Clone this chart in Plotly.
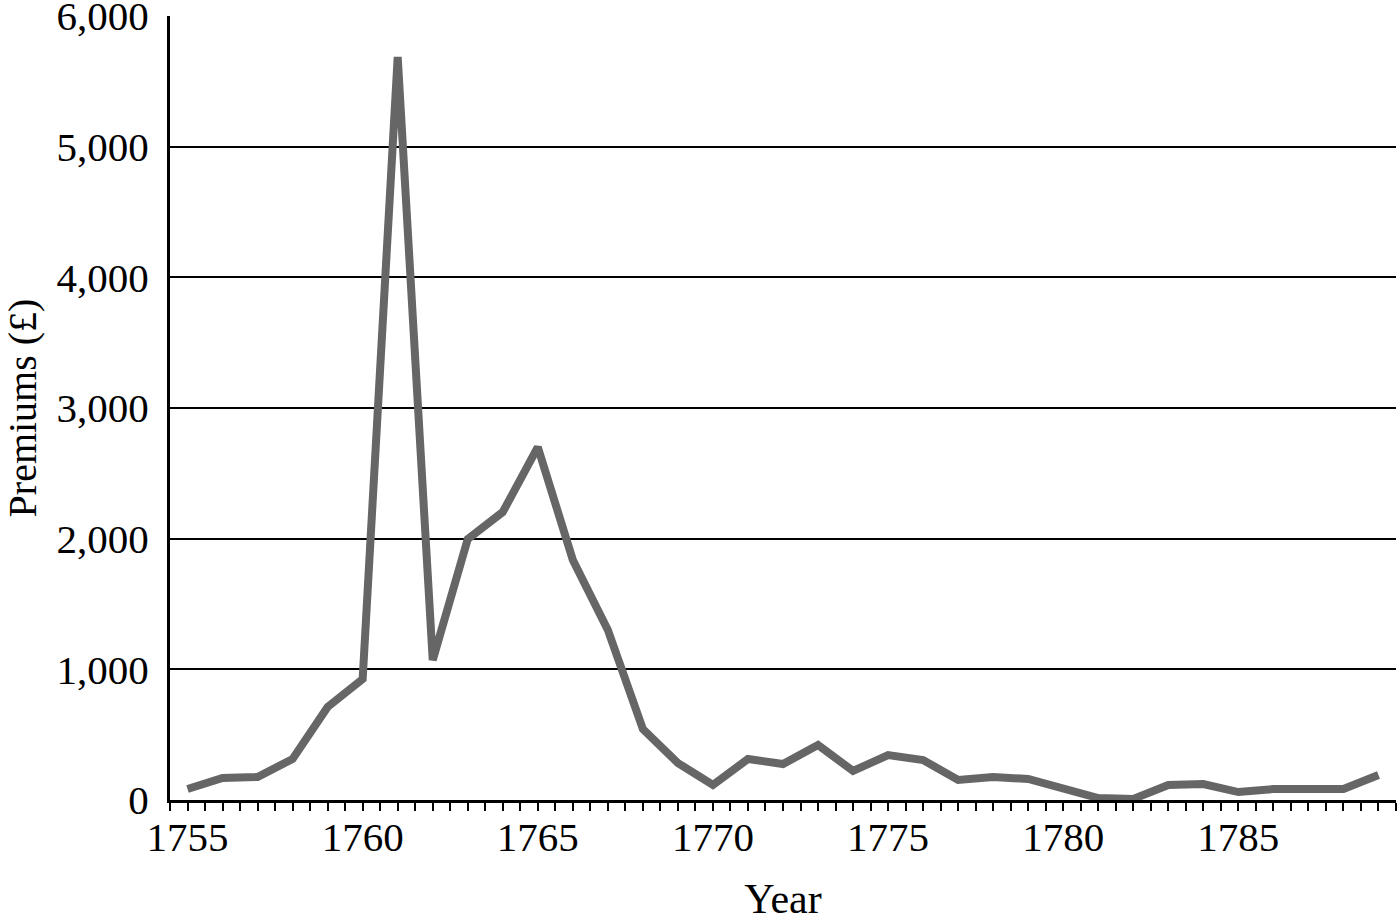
import plotly.graph_objects as go

years = list(range(1755, 1790))
premiums = [84, 168, 176, 314, 712, 926, 5686, 1071, 1997, 2204,
            2701, 1837, 1301, 543, 283, 115, 314, 275, 421, 222,
            344, 306, 153, 176, 161, 84, 15, 8, 115, 122,
            61, 84, 77, 84, 191]

y_ticks = [0, 1000, 2000, 3000, 4000, 5000, 6000]
x_ticks = [1755, 1760, 1765, 1770, 1775, 1780, 1785]

font_family = "Liberation Serif, Times New Roman, serif"

fig = go.Figure()
fig.add_trace(go.Scatter(
    x=years, y=premiums, mode="lines",
    line=dict(color="#666666", width=8),
    showlegend=False,
))

fig.update_layout(
    width=1400, height=922,
    margin=dict(l=170, r=4, t=16, b=122, autoexpand=False),
    paper_bgcolor="white", plot_bgcolor="white",
    font=dict(family=font_family, size=41, color="black"),
)

fig.update_xaxes(
    range=[1754.5, 1789.5],
    tickvals=x_ticks,
    ticks="outside", ticklen=8, tickwidth=2, tickcolor="black",
    minor=dict(ticks="outside", ticklen=8, tickwidth=2, tickcolor="black",
               tick0=1754.5, dtick=0.5, showgrid=False),
    showline=True, linecolor="black", linewidth=3,
    showgrid=False, zeroline=False, automargin=False,
    ticklabelstandoff=-9,
    tickfont=dict(size=41),
    title=dict(text="Year", font=dict(size=42), standoff=43),
)

fig.update_yaxes(
    range=[0, 6000.5],
    tickvals=y_ticks, tickformat=",d",
    ticks="", ticklabelstandoff=10, ticklabeloverflow="allow",
    showline=True, linecolor="black", linewidth=3,
    showgrid=True, gridcolor="black", gridwidth=2,
    zeroline=False, automargin=False,
    tickfont=dict(size=41),
    title=dict(text="Premiums (£)", font=dict(size=40), standoff=28),
)

# drop the default 8px body margin so the chart sits flush in the window
fig.write_html("out.html", config={"displayModeBar": False},
               post_script="document.body.style.margin='0';")
